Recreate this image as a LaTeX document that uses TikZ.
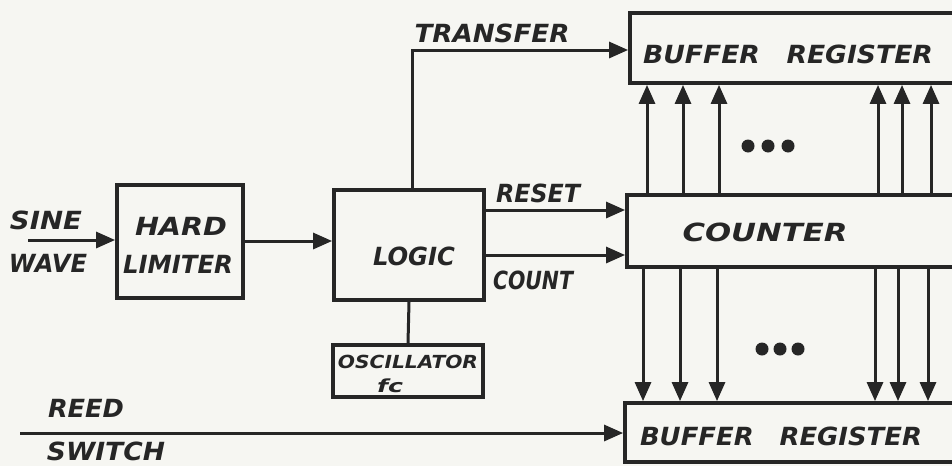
\documentclass[tikz,border=0pt]{standalone}
\usepackage{fontspec}
\usepackage{graphicx}
\setmainfont{DejaVu Sans}
\usetikzlibrary{arrows.meta}
\definecolor{ink}{RGB}{38,38,38}
\definecolor{paper}{RGB}{246,246,242}
\newcommand{\fitw}[2]{\resizebox{#1}{\height}{#2}}
\tikzset{
  blk/.style={draw=ink, line width=3.8pt, fill=none, inner sep=0pt},
  conn/.style={draw=ink, line width=3pt, -{Triangle[length=19pt,width=16pt]}},
  wire/.style={draw=ink, line width=3pt},
  lbl/.style={text=ink, inner sep=0pt, font=\itshape\bfseries\fontsize{25}{25}\selectfont},
  small/.style={text=ink, inner sep=0pt, font=\itshape\bfseries\fontsize{18}{18}\selectfont},
  dot/.style={circle, fill=ink, inner sep=0pt, minimum size=13pt}
}
\begin{document}
\begin{tikzpicture}[x=1pt,y=-1pt]
\fill[paper] (0,0) rectangle (952,466);
\useasboundingbox (0,0) rectangle (952,466);
% blocks
\node[blk, minimum width=126pt, minimum height=113pt] (hl) at (180,241.5) {};
\node[blk, minimum width=150pt, minimum height=110pt] (lg) at (409,245) {};
\node[blk, minimum width=150pt, minimum height=52pt] (osc) at (408,371) {};
\node[blk, minimum width=345pt, minimum height=70pt] (tb) at (802.5,48) {};
\node[blk, minimum width=348pt, minimum height=72pt] (ct) at (801,231) {};
\node[blk, minimum width=350pt, minimum height=59pt] (bb) at (800,432.5) {};
% labels
\node[lbl] (tSine) at (46,220) {\fitw{72pt}{SINE}};
\node[lbl] (tWave) at (48,263) {\fitw{78pt}{WAVE}};
\node[lbl] (tHard) at (181,226) {\fitw{92pt}{HARD}};
\node[lbl] (tLim) at (178,264) {\fitw{110pt}{LIMITER}};
\node[lbl] (tLogic) at (414,256) {\fitw{82pt}{LOGIC}};
\node[lbl] (tTrans) at (492,33) {\fitw{155pt}{TRANSFER}};
\node[lbl] (tReset) at (538,193) {\fitw{84pt}{RESET}};
\node[lbl] (tCount) at (533,280) {\fitw{80pt}{COUNT}};
\node[small] (tOsc) at (408,362) {\fitw{140pt}{OSCILLATOR}};
\node[small] (tFc) at (390,386) {\fitw{26pt}{fc}};
\node[lbl] (tReed) at (86,408) {\fitw{76pt}{REED}};
\node[lbl] (tSwitch) at (106,451) {\fitw{118pt}{SWITCH}};
\node[lbl] (tBuf1) at (788,54) {\fitw{290pt}{BUFFER\hspace{1em}REGISTER}};
\node[lbl] (tCnt) at (765,232) {\fitw{165pt}{COUNTER}};
\node[lbl] (tBuf2) at (781,436) {\fitw{282pt}{BUFFER\hspace{1em}REGISTER}};
% connectors
\coordinate (sw) at (28,240);
\draw[conn] (sw) -- (sw -| hl.west);
\draw[conn] (hl.east |- 0,241) -- (lg.west |- 0,241);
\coordinate (tr) at (412,50);
\draw[conn] (lg.north -| tr) |- (tb.west |- tr);
\coordinate (rs) at (0,210);
\coordinate (cn) at (0,255);
\draw[conn] (lg.east |- rs) -- (ct.west |- rs);
\draw[conn] (lg.east |- cn) -- (ct.west |- cn);
\draw[wire] (lg.south) -- (osc.north);
\coordinate (rd) at (20,433);
\draw[conn] (rd) -- (bb.west |- rd);
\foreach \i/\x in {1/647,2/683,3/719,4/878,5/902,6/931}{
  \coordinate (u\i) at (\x,0);
  \draw[conn] (ct.north -| u\i) -- (tb.south -| u\i);
}
\foreach \i/\x in {1/643,2/680,3/717,4/875,5/898,6/928}{
  \coordinate (d\i) at (\x,0);
  \draw[conn] (ct.south -| d\i) -- (bb.north -| d\i);
}
\node[dot] (ua) at (748,146) {};
\node[dot] (ub) at (768,146) {};
\node[dot] (uc) at (788,146) {};
\node[dot] (da) at (762,349) {};
\node[dot] (db) at (780,349) {};
\node[dot] (dc) at (798,349) {};
\end{tikzpicture}
\end{document}
